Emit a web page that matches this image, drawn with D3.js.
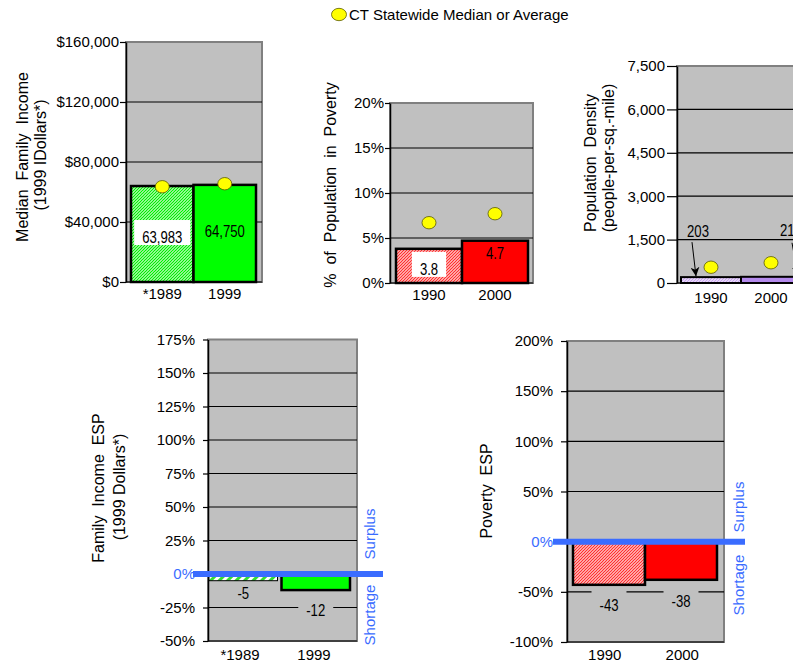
<!DOCTYPE html>
<html><head><meta charset="utf-8">
<script src="https://cdn.jsdelivr.net/npm/d3@7"></script>
<style>
body{margin:0;background:#fff;overflow:hidden}
svg{display:block}
text{font-family:"Liberation Sans",Arial,sans-serif;font-size:15px;fill:#000}
.narrow{font-family:"Liberation Sans",Arial,sans-serif;font-size:16px}
.title{font-size:16px}
</style>
</head><body>
<svg id="c" width="793" height="663"></svg>
<script>
// ---------------- DATA ----------------
const incomeCategories = ["*1989", "1999"];
const incomeValues = [63983, 64750];
const incomeStatewide = [63500, 65521];
const incomeTicks = [0, 40000, 80000, 120000, 160000];
const incomeTickLabels = ["$0", "$40,000", "$80,000", "$120,000", "$160,000"];

const povertyCategories = ["1990", "2000"];
const povertyValues = [3.8, 4.7];
const povertyStatewide = [6.7, 7.7];
const povertyTicks = [0, 5, 10, 15, 20];
const povertyTickLabels = ["0%", "5%", "10%", "15%", "20%"];

const densityCategories = ["1990", "2000"];
const densityValues = [203, 214];
const densityStatewide = [545, 700];
const densityTicks = [0, 1500, 3000, 4500, 6000, 7500];
const densityTickLabels = ["0", "1,500", "3,000", "4,500", "6,000", "7,500"];

const incomeEspCategories = ["*1989", "1999"];
const incomeEspValues = [-5, -12];
const incomeEspTicks = [-50, -25, 0, 25, 50, 75, 100, 125, 150, 175];
const incomeEspTickLabels = ["-50%", "-25%", "0%", "25%", "50%", "75%", "100%", "125%", "150%", "175%"];

const povertyEspCategories = ["1990", "2000"];
const povertyEspValues = [-43, -38];
const povertyEspTicks = [-100, -50, 0, 50, 100, 150, 200];
const povertyEspTickLabels = ["-100%", "-50%", "0%", "50%", "100%", "150%", "200%"];

const legendLabel = "CT Statewide Median or Average";

// ---------------- DRAWING ----------------
const svg = d3.select("#c");
const defs = svg.append("defs");
const BLUE = "#3a6cff";
const fmt = v => d3.format(",")(v).replace("\u2212", "-");

function finePattern(id, color, bg) {
  const p = defs.append("pattern").attr("id", id).attr("patternUnits", "userSpaceOnUse")
    .attr("width", 3).attr("height", 3);
  p.append("rect").attr("width", 3).attr("height", 3).attr("fill", bg || "#fff");
  p.append("path").attr("d", "M0,3 L3,0 M-1,1 L1,-1 M2,4 L4,2")
    .attr("stroke", color).attr("stroke-width", 1.25);
}
finePattern("greenFine", "#00ee00");
finePattern("redFine", "#ff3030");
finePattern("purpleFine", "#c8a4f0");
(function () {
  const p = defs.append("pattern").attr("id", "greenStripe").attr("patternUnits", "userSpaceOnUse")
    .attr("width", 6).attr("height", 6).attr("patternTransform", "rotate(45)");
  p.append("rect").attr("width", 6).attr("height", 6).attr("fill", "#fff");
  p.append("rect").attr("width", 3).attr("height", 6).attr("fill", "#33dd33");
})();
defs.append("marker").attr("id", "arrow").attr("viewBox", "0 0 10 10").attr("refX", 10).attr("refY", 5)
  .attr("markerWidth", 9).attr("markerHeight", 9).attr("markerUnits", "userSpaceOnUse").attr("orient", "auto")
  .append("path").attr("d", "M0,0 L10,5 L0,10 L3,5 Z").attr("fill", "#000");

function narrowText(sel) {
  const n = sel.node();
  const L = n.getComputedTextLength();
  sel.attr("textLength", L * 0.82).attr("lengthAdjust", "spacingAndGlyphs");
  return L * 0.82;
}

function panel(o) {
  const g = svg.append("g");
  const t0 = o.ticks[0], t1 = o.ticks[o.ticks.length - 1];
  const y = d3.scaleLinear().domain([t0, t1]).range([o.bottom, o.top]);
  const x = d3.scaleBand().domain(o.cats).range([o.barL, o.barR]).paddingInner(o.pad || 0);
  const xc = d3.scaleBand().domain(o.cats).range(o.catRange || [o.left, o.right]);

  g.append("rect").attr("x", o.left).attr("y", o.top)
    .attr("width", o.right - o.left).attr("height", o.bottom - o.top)
    .attr("fill", "#c0c0c0").attr("stroke", "#808080").attr("stroke-width", 2);

  g.selectAll("line.grid").data(o.ticks.slice(0, -1)).join("line").attr("class", "grid")
    .attr("x1", o.left).attr("x2", o.right).attr("y1", d => y(d)).attr("y2", d => y(d))
    .attr("stroke", "#000").attr("stroke-width", 1.2);

  const ax = g.append("g").attr("transform", `translate(${o.left},0)`)
    .call(d3.axisLeft(y).tickValues(o.ticks).tickSize(o.tickLen).tickSizeOuter(0)
      .tickPadding(o.tickPad).tickFormat((d, i) => o.tickLabels[i]));
  ax.select(".domain").attr("stroke", "#000").attr("stroke-width", 1.5);
  ax.selectAll(".tick line").attr("stroke", "#000").attr("stroke-width", 1.2);
  ax.selectAll(".tick text").style("font-size", "15px").attr("font-family", null)
    .style("fill", d => (o.blueZero && d === 0) ? BLUE : "#000");

  // bars
  g.selectAll("rect.bar").data(o.values).join("rect").attr("class", "bar")
    .attr("x", (d, i) => x(o.cats[i])).attr("width", x.bandwidth())
    .attr("y", d => Math.min(y(d), y(0))).attr("height", d => Math.abs(y(d) - y(0)))
    .attr("fill", (d, i) => o.fills[i]).attr("stroke", "#000")
    .attr("stroke-width", (d, i) => o.strokeW[i]);

  // zero line (ESP panels)
  if (o.blueZero) {
    g.append("line").attr("x1", o.blueL).attr("x2", o.blueR).attr("y1", y(0)).attr("y2", y(0))
      .attr("stroke", BLUE).attr("stroke-width", 6);
    o.sideLabels.forEach(s => {
      g.append("text").attr("transform", `translate(${s.x},${s.y}) rotate(-90)`)
        .attr("text-anchor", "middle").attr("dy", "0.35em").style("fill", BLUE).text(s.text);
    });
  }

  // data labels
  o.values.forEach((v, i) => {
    const cx = x(o.cats[i]) + (o.labelDx ? o.labelDx[i] : x.bandwidth() / 2);
    const cy = (o.labelMode === "mid" ? y(v / 2) : y(v)) + o.labelDy[i];
    const txt = g.append("text").attr("class", "narrow").attr("x", cx).attr("y", cy)
      .attr("dy", "0.35em").attr("text-anchor", "middle").text(fmt(v));
    const tw = narrowText(txt);
    const box = o.labelBox ? o.labelBox[i] : null;
    if (box) {
      const w = tw + 16;
      g.insert("rect", () => txt.node()).attr("x", cx - w / 2).attr("y", cy + box.dy - box.h / 2)
        .attr("width", w).attr("height", box.h).attr("fill", box.fill);
    }
    if (o.arrows) {
      const a = o.arrows[i];
      g.append("line").attr("x1", cx + a.x1).attr("y1", cy + a.y1).attr("x2", cx + a.x2).attr("y2", y(v) - 1)
        .attr("stroke", "#000").attr("stroke-width", 1).attr("marker-end", "url(#arrow)");
    }
  });

  // statewide dots
  if (o.state) {
    g.selectAll("ellipse").data(o.state).join("ellipse")
      .attr("cx", (d, i) => x(o.cats[i]) + x.bandwidth() / 2).attr("cy", d => y(d))
      .attr("rx", 7).attr("ry", 6.2).attr("fill", "#ffff00").attr("stroke", "#5a5a00").attr("stroke-width", 0.8);
  }

  // category labels
  g.selectAll("text.cat").data(o.cats).join("text").attr("class", "cat")
    .attr("x", d => xc(d) + xc.bandwidth() / 2).attr("y", o.catY)
    .attr("text-anchor", "middle").text(d => d);

  // axis title
  o.title.forEach(t => {
    g.append("text").attr("class", "title").attr("transform", `translate(${t.x},${t.y}) rotate(-90)`)
      .attr("text-anchor", "middle").attr("dy", "0.35em").style("white-space", "pre")
      .attr("xml:space", "preserve").text(t.text);
  });
}

// Panel 1: Median family income
panel({
  cats: incomeCategories, values: incomeValues, state: incomeStatewide,
  ticks: incomeTicks, tickLabels: incomeTickLabels,
  left: 126, right: 262, top: 42, bottom: 282, barL: 131, barR: 256,
  catRange: [131, 256],
  tickLen: 6, tickPad: 1,
  fills: ["url(#greenFine)", "#00ff00"], strokeW: [2.5, 2.5],
  labelMode: "mid", labelDy: [3.5, -2.5],
  labelBox: [{dy: -5, h: 25, fill: "#fff"}, null],
  catY: 299,
  title: [{text: "Median  Family  Income", x: 22, y: 157}, {text: "(1999 IDollars*)", x: 40, y: 155}]
});

// Panel 2: % population in poverty
panel({
  cats: povertyCategories, values: povertyValues, state: povertyStatewide,
  ticks: povertyTicks, tickLabels: povertyTickLabels,
  left: 390, right: 533, top: 103, bottom: 283, barL: 396, barR: 528,
  catRange: [396, 528],
  tickLen: 5, tickPad: 1,
  fills: ["url(#redFine)", "#ff0000"], strokeW: [2.5, 2.5],
  labelMode: "mid", labelDy: [3, -8],
  labelBox: [{dy: -4.5, h: 25, fill: "#fff"}, null],
  catY: 300,
  title: [{text: "%  of  Population  in  Poverty", x: 330, y: 185}]
});

// Panel 3: Population density
panel({
  cats: densityCategories, values: densityValues, state: densityStatewide,
  ticks: densityTicks, tickLabels: densityTickLabels,
  left: 677, right: 880, top: 66, bottom: 283, barL: 681, barR: 801,
  catRange: [681, 801],
  tickLen: 10, tickPad: 2,
  fills: ["url(#purpleFine)", "#b48aec"], strokeW: [2, 2],
  labelMode: "top", labelDy: [-46, -46], labelDx: [17, 50],
  arrows: [{x1: -6, y1: 11, x2: -2}, {x1: 1, y1: 12, x2: 7}],
  catY: 303,
  title: [{text: "Population  Density", x: 590, y: 163}, {text: "(people-per-sq.-mile)", x: 608, y: 158}]
});

// Panel 4: Family income ESP
panel({
  cats: incomeEspCategories, values: incomeEspValues,
  ticks: incomeEspTicks, tickLabels: incomeEspTickLabels,
  left: 208, right: 357, top: 339.5, bottom: 641, barL: 209, barR: 350, pad: 0.055,
  catRange: [203, 351],
  tickLen: 5, tickPad: 8, blueZero: true, blueL: 193, blueR: 383,
  sideLabels: [{text: "Surplus", x: 370, y: 534}, {text: "Shortage", x: 370, y: 615}],
  fills: ["url(#greenStripe)", "#00ff00"], strokeW: [1, 2.5],
  labelMode: "below", labelDy: [12.6, 20],
  labelBox: [{dy: 0, h: 22, fill: "#c0c0c0"}, {dy: 0, h: 22, fill: "#c0c0c0"}],
  catY: 659.5,
  title: [{text: "Family  Income  ESP", x: 98, y: 488}, {text: "(1999 Dollars*)", x: 119, y: 487}]
});

// Panel 5: Poverty ESP
panel({
  cats: povertyEspCategories, values: povertyEspValues,
  ticks: povertyEspTicks, tickLabels: povertyEspTickLabels,
  left: 567, right: 724, top: 341, bottom: 642, barL: 573, barR: 717,
  catRange: [566, 721],
  tickLen: 6, tickPad: 8, blueZero: true, blueL: 553, blueR: 745,
  sideLabels: [{text: "Surplus", x: 738.5, y: 507}, {text: "Shortage", x: 738.5, y: 585}],
  fills: ["url(#redFine)", "#ff0000"], strokeW: [2.5, 2.5],
  labelMode: "below", labelDy: [21, 22],
  labelBox: [{dy: -3, h: 26, fill: "#c0c0c0"}, {dy: -1, h: 26, fill: "#c0c0c0"}],
  catY: 659.5,
  title: [{text: "Poverty  ESP", x: 486, y: 491}]
});

// Legend
const lg = svg.append("g");
lg.append("ellipse").attr("cx", 339).attr("cy", 14.5).attr("rx", 7.5).attr("ry", 6.2)
  .attr("fill", "#ffff00").attr("stroke", "#5a5a00").attr("stroke-width", 0.8);
lg.append("text").attr("x", 349).attr("y", 19.5).text(legendLabel);
</script>
</body></html>
